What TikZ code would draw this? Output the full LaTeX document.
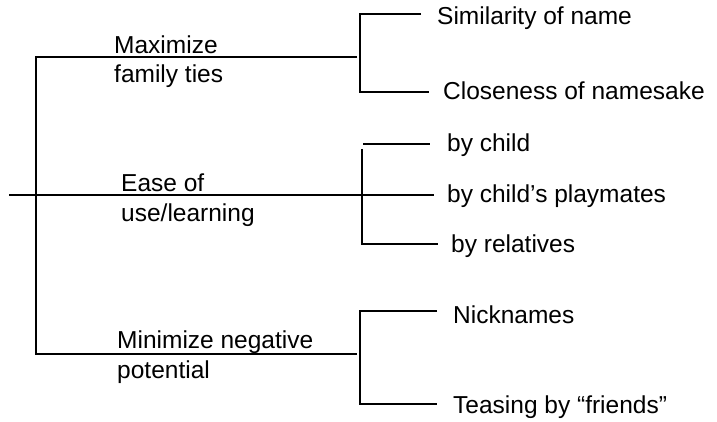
\documentclass[tikz,border=0pt]{standalone}
\usepackage{fontspec}
\setmainfont{Liberation Sans}
\begin{document}
\begin{tikzpicture}[x=1pt,y=-1pt,
  conn/.style={line width=2pt,line cap=butt,line join=miter},
  lbl/.style={font=\fontsize{24.5}{29.5}\selectfont,inner sep=0pt,anchor=base west,align=left}]
\useasboundingbox (0,0) rectangle (717,422);

% labels of the three main branches (anchored at the baseline of their last line)
\node[lbl] (fam)  at (114,83)  {Maximize\\family ties};
\node[lbl] (ease) at (121,221) {Ease of\\use/learning};
\node[lbl] (neg)  at (117,378) {Minimize negative\\potential};

% leaf labels
\node[lbl] (sim)  at (437,25)  {Similarity of name};
\node[lbl] (clo)  at (443,100) {Closeness of namesake};
\node[lbl] (bc)   at (447,152) {by child};
\node[lbl] (bp)   at (447,203) {by child’s playmates};
\node[lbl] (br)   at (451,252) {by relatives};
\node[lbl] (nick) at (453,323) {Nicknames};
\node[lbl] (teas) at (453,413) {Teasing by “friends”};

% junction and end points
\coordinate (stub) at (9,195);
\coordinate (r1) at (36,57);
\coordinate (r3) at (36,354);
\coordinate (j1) at (357,57);
\coordinate (j3) at (357,354);
\coordinate (k1) at (360,57);
\coordinate (k3) at (360,354);
\coordinate (simE) at (421,14);
\coordinate (cloE) at (429,92);
\coordinate (bcS) at (363,144);
\coordinate (bcE) at (430,144);
\coordinate (mv) at (362,149);
\coordinate (bpE) at (434,195);
\coordinate (brE) at (438,244);
\coordinate (nickE) at (437,311);
\coordinate (teasE) at (437,404);

% root with its upper and lower branches
\draw[conn] (j1) -- (r1) -- (r3) -- (j3);
% middle branch, running through from the stub
\draw[conn] (stub) -- (bpE);

% upper bracket
\draw[conn] (simE) -| (k1) |- (cloE);
% middle bracket
\draw[conn] (bcS) -- (bcE);
\draw[conn] (mv) |- (brE);
% lower bracket
\draw[conn] (nickE) -| (k3) |- (teasE);
\end{tikzpicture}
\end{document}
